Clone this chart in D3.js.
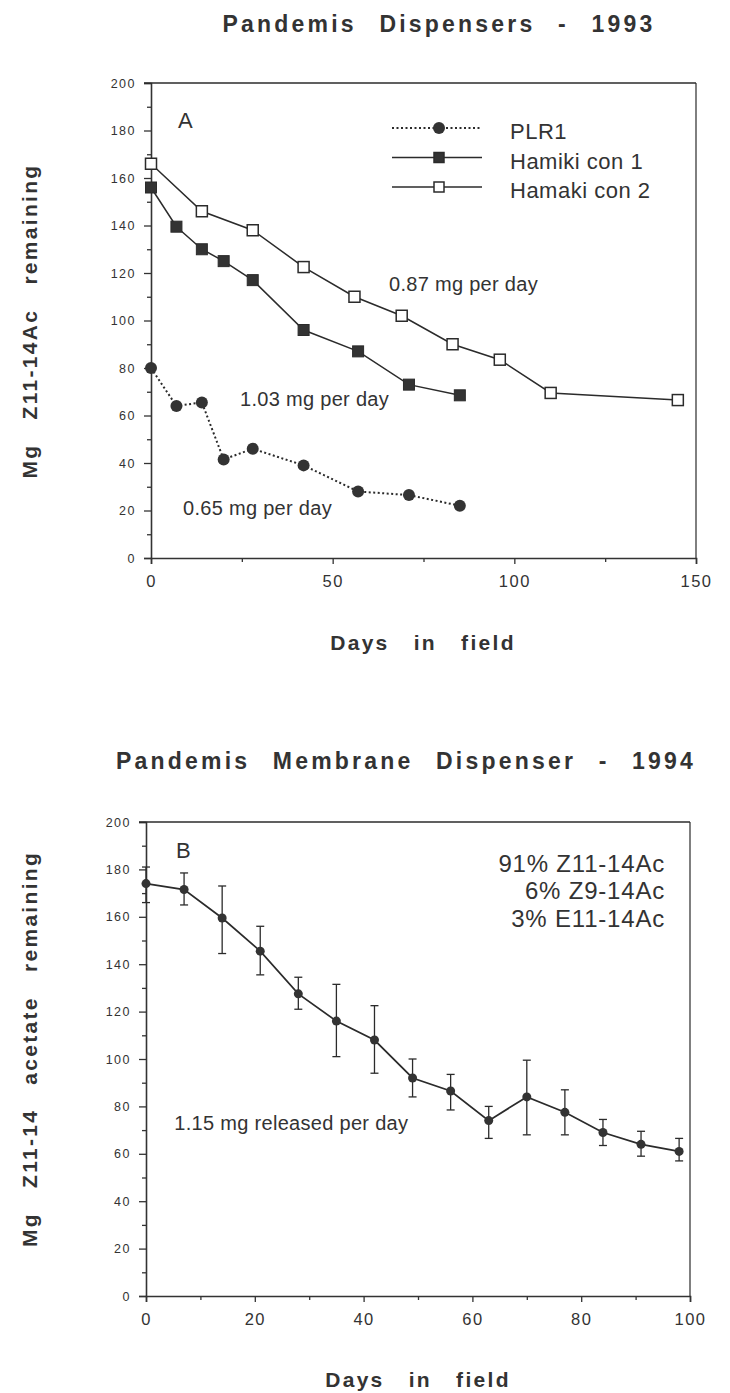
<!DOCTYPE html>
<html>
<head>
<meta charset="utf-8">
<script src="https://cdn.jsdelivr.net/npm/d3@7"></script>
<style>
  body { margin: 0; background: #fff; }
  svg text { font-family: "Liberation Sans", Arial, sans-serif; fill: #333; }
  .title { font-weight: bold; font-size: 23px; letter-spacing: 3.2px; word-spacing: 13px; }
  .axlabel { font-weight: bold; font-size: 21px; letter-spacing: 2.3px; word-spacing: 16px; }
  .ytick text { font-size: 12.5px; letter-spacing: 1.5px; }
  .xtick text { font-size: 16.5px; letter-spacing: 1.5px; }
  .note { font-size: 20px; letter-spacing: 0.3px; }
  .legend { font-size: 22px; letter-spacing: 0.5px; }
  .comp { font-size: 24px; letter-spacing: 0.8px; }
  .panel { font-size: 22px; }
  .domain, .tick line { stroke: #333; }
</style>
</head>
<body>
<svg id="chart" width="730" height="1393"></svg>
<script>
// panel A: Pandemis dispensers 1993
var plrDays = [0, 7, 14, 20, 28, 42, 57, 71, 85];
var plrMg = [80, 64, 65.5, 41.5, 46, 39, 28, 26.5, 22];
var con1Days = [0, 7, 14, 20, 28, 42, 57, 71, 85];
var con1Mg = [156, 139.5, 130, 125, 117, 96, 87, 73, 68.5];
var con2Days = [0, 14, 28, 42, 56, 69, 83, 96, 110, 145];
var con2Mg = [166, 146, 138, 122.5, 110, 102, 90, 83.5, 69.5, 66.5];

// panel B: membrane dispenser 1994
var membDays = [0, 7, 14, 21, 28, 35, 42, 49, 56, 63, 70, 77, 84, 91, 98];
var membMg = [174, 171.5, 159.5, 145.5, 127.5, 116, 108, 92, 86.5, 74, 84, 77.5, 69, 64, 61];
var membHi = [181, 178.5, 173, 156, 134.5, 131.5, 122.5, 100, 93.5, 80, 99.5, 87, 74.5, 69.5, 66.5];
var membLo = [166, 165, 144.5, 135.5, 121, 101, 94, 84, 78.5, 66.5, 68, 68, 63.5, 59, 57];

var yMajor = [0, 20, 40, 60, 80, 100, 120, 140, 160, 180, 200];
var yMinor = [10, 30, 50, 70, 90, 110, 130, 150, 170, 190];
var xMajorA = [0, 50, 100, 150];
var xMinorA = [25, 75, 125];
var xMajorB = [0, 20, 40, 60, 80, 100];
var xMinorB = [10, 30, 50, 70, 90];

var ink = "#2b2b2b";
var svg = d3.select("#chart");

function zip(xs, ys) { return xs.map((d, i) => ({ x: d, y: ys[i] })); }

function frame(g, x, y, xMajor, xMinor) {
  var w = x.range()[1], h = y.range()[0];
  g.append("g").attr("class", "ytick")
    .call(d3.axisLeft(y).tickValues(yMajor).tickSize(7).tickPadding(8));
  g.append("g").attr("class", "ytick")
    .call(d3.axisLeft(y).tickValues(yMinor).tickSize(4).tickFormat(""))
    .select(".domain").remove();
  g.append("g").attr("class", "xtick")
    .attr("transform", `translate(0,${h})`)
    .call(d3.axisBottom(x).tickValues(xMajor).tickSize(6).tickPadding(11));
  g.append("g").attr("class", "xtick")
    .attr("transform", `translate(0,${h})`)
    .call(d3.axisBottom(x).tickValues(xMinor).tickSize(4).tickFormat(""))
    .select(".domain").remove();
  g.selectAll(".domain").attr("stroke-width", 1.6);
  g.selectAll(".tick line").attr("stroke-width", 1.3);
  g.append("line").attr("x1", -7).attr("x2", w).attr("y1", 0).attr("y2", 0)
    .attr("stroke", ink).attr("stroke-width", 1.5);
  g.append("line").attr("x1", w).attr("x2", w).attr("y1", 0).attr("y2", h)
    .attr("stroke", ink).attr("stroke-width", 1.2);
}

// ---------- panel A ----------
var gA = svg.append("g").attr("transform", "translate(151,83)");
var xA = d3.scaleLinear().domain([0, 150]).range([0, 545]);
var yA = d3.scaleLinear().domain([0, 200]).range([475, 0]);
frame(gA, xA, yA, xMajorA, xMinorA);

var lineA = d3.line().x(d => xA(d.x)).y(d => yA(d.y));

gA.append("path").datum(zip(con2Days, con2Mg))
  .attr("d", lineA).attr("fill", "none").attr("stroke", ink).attr("stroke-width", 1.5);
gA.append("path").datum(zip(con1Days, con1Mg))
  .attr("d", lineA).attr("fill", "none").attr("stroke", ink).attr("stroke-width", 1.5);
gA.append("path").datum(zip(plrDays, plrMg))
  .attr("d", lineA).attr("fill", "none").attr("stroke", ink).attr("stroke-width", 2)
  .attr("stroke-dasharray", "2,2.5");

var sq = 11;
gA.selectAll(".con2").data(zip(con2Days, con2Mg)).enter().append("rect")
  .attr("x", d => xA(d.x) - sq / 2).attr("y", d => yA(d.y) - sq / 2)
  .attr("width", sq).attr("height", sq)
  .attr("fill", "#fff").attr("stroke", ink).attr("stroke-width", 1.5);
gA.selectAll(".con1").data(zip(con1Days, con1Mg)).enter().append("rect")
  .attr("x", d => xA(d.x) - sq / 2).attr("y", d => yA(d.y) - sq / 2)
  .attr("width", sq).attr("height", sq)
  .attr("fill", "#333").attr("stroke", ink).attr("stroke-width", 1);
gA.selectAll(".plr").data(zip(plrDays, plrMg)).enter().append("circle")
  .attr("cx", d => xA(d.x)).attr("cy", d => yA(d.y)).attr("r", 6)
  .attr("fill", "#333");

// legend
var legend = [
  { name: "PLR1", dash: "2,2.5", mark: "circle" },
  { name: "Hamiki con 1", dash: null, mark: "filled" },
  { name: "Hamaki con 2", dash: null, mark: "open" }
];
var lg = gA.append("g").attr("transform", "translate(241,45)");
legend.forEach(function (d, i) {
  var row = lg.append("g").attr("transform", `translate(0,${i * 29.5})`);
  row.append("line").attr("x1", 0).attr("x2", 90).attr("stroke", ink)
    .attr("stroke-width", d.dash ? 2 : 1.5).attr("stroke-dasharray", d.dash);
  if (d.mark === "circle") {
    row.append("circle").attr("cx", 47).attr("r", 6).attr("fill", "#333");
  } else {
    row.append("rect").attr("x", 47 - 5).attr("y", -5).attr("width", 10).attr("height", 10)
      .attr("fill", d.mark === "filled" ? "#333" : "#fff").attr("stroke", ink).attr("stroke-width", 1.5);
  }
  row.append("text").attr("class", "legend").attr("x", 118).attr("y", 11).text(d.name);
});

gA.append("text").attr("class", "panel").attr("x", 27).attr("y", 45).text("A");
gA.append("text").attr("class", "note").attr("x", xA(65.5)).attr("y", yA(112.6)).text("0.87 mg per day");
gA.append("text").attr("class", "note").attr("x", xA(24.5)).attr("y", yA(63.8)).text("1.03 mg per day");
gA.append("text").attr("class", "note").attr("x", xA(8.8)).attr("y", yA(17.9)).text("0.65 mg per day");

svg.append("text").attr("class", "title").attr("x", 439).attr("y", 32)
  .attr("text-anchor", "middle").text("Pandemis Dispensers - 1993");
svg.append("text").attr("class", "axlabel").attr("x", 423).attr("y", 650)
  .attr("text-anchor", "middle").text("Days in field");
svg.append("text").attr("class", "axlabel")
  .attr("transform", "translate(37,321) rotate(-90)")
  .attr("text-anchor", "middle").text("Mg Z11-14Ac remaining");

// ---------- panel B ----------
var gB = svg.append("g").attr("transform", "translate(146,822)");
var xB = d3.scaleLinear().domain([0, 100]).range([0, 544]);
var yB = d3.scaleLinear().domain([0, 200]).range([474, 0]);
frame(gB, xB, yB, xMajorB, xMinorB);

var memb = membDays.map((d, i) => ({ x: d, y: membMg[i], hi: membHi[i], lo: membLo[i] }));
var cap = 4;
var eb = gB.selectAll(".eb").data(memb).enter().append("g")
  .attr("stroke", ink).attr("stroke-width", 1.3);
eb.append("line").attr("x1", d => xB(d.x)).attr("x2", d => xB(d.x))
  .attr("y1", d => yB(d.hi)).attr("y2", d => yB(d.lo));
eb.append("line").attr("x1", d => xB(d.x) - cap).attr("x2", d => xB(d.x) + cap)
  .attr("y1", d => yB(d.hi)).attr("y2", d => yB(d.hi));
eb.append("line").attr("x1", d => xB(d.x) - cap).attr("x2", d => xB(d.x) + cap)
  .attr("y1", d => yB(d.lo)).attr("y2", d => yB(d.lo));

var lineB = d3.line().x(d => xB(d.x)).y(d => yB(d.y));
gB.append("path").datum(memb).attr("d", lineB)
  .attr("fill", "none").attr("stroke", ink).attr("stroke-width", 1.7);
gB.selectAll(".pt").data(memb).enter().append("circle")
  .attr("cx", d => xB(d.x)).attr("cy", d => yB(d.y)).attr("r", 4.5).attr("fill", "#333");

gB.append("text").attr("class", "panel").attr("x", 30).attr("y", 36).text("B");
var comp = ["91% Z11-14Ac", "6% Z9-14Ac", "3% E11-14Ac"];
comp.forEach(function (t, i) {
  gB.append("text").attr("class", "comp")
    .attr("x", 519).attr("y", 49.5 + i * 27.5).attr("text-anchor", "end").text(t);
});
gB.append("text").attr("class", "note").attr("x", xB(5.2)).attr("y", yB(70.2)).text("1.15 mg released per day");

svg.append("text").attr("class", "title").attr("x", 406).attr("y", 769)
  .attr("text-anchor", "middle").text("Pandemis Membrane Dispenser - 1994");
svg.append("text").attr("class", "axlabel").attr("x", 418).attr("y", 1387)
  .attr("text-anchor", "middle").text("Days in field");
svg.append("text").attr("class", "axlabel")
  .attr("transform", "translate(37,1049) rotate(-90)")
  .attr("text-anchor", "middle").text("Mg Z11-14 acetate remaining");
</script>
</body>
</html>
